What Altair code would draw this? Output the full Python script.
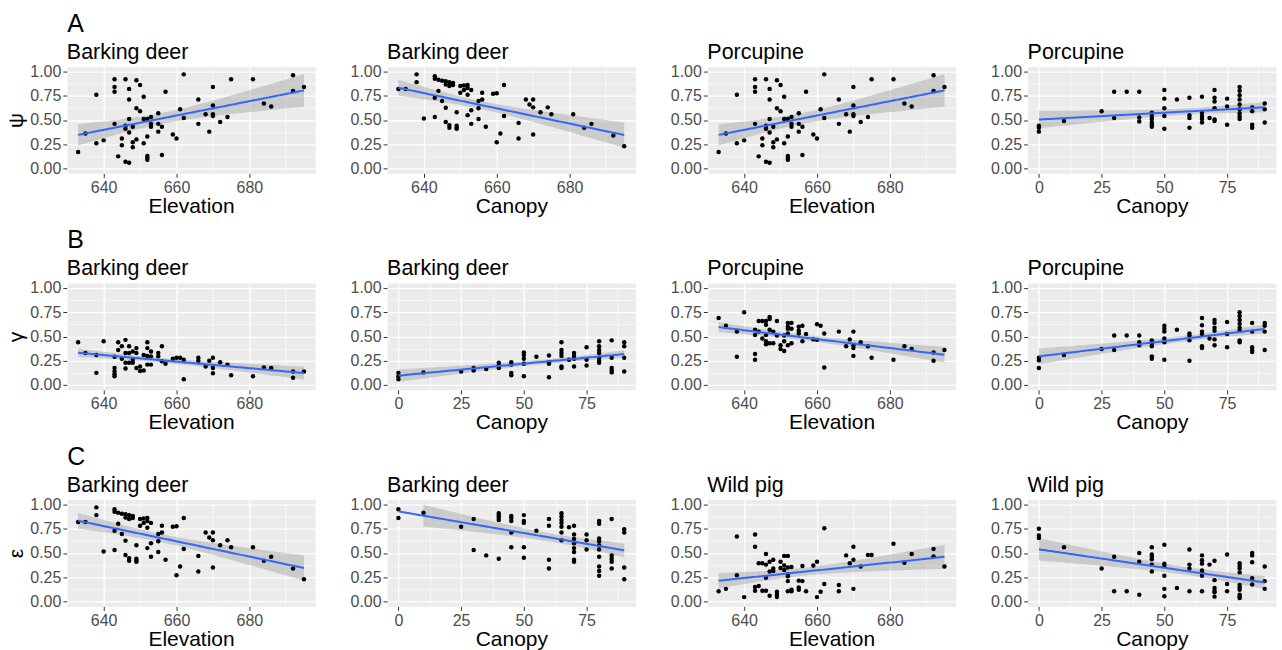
import altair as alt
import numpy as np
import pandas as pd

FONT = "Liberation Sans"

# ---------------- data (x value -> list of y values) -------------
# Row A (psi, occupancy)
psi_bd_elev = {633: [0.17], 635: [0.36], 638: [0.76, 0.26], 640: [0.29], 643: [0.92, 0.84, 0.79, 0.46],
               644: [0.125], 645: [0.31, 0.24], 646: [0.92, 0.44, 0.41, 0.07], 647: [0.82, 0.71, 0.51, 0.37, 0.06],
               648: [0.27, 0.22, 0.43], 649: [0.91, 0.62, 0.30], 650: [0.86, 0.59], 651: [0.74, 0.26, 0.51],
               652: [0.51, 0.33, 0.13, 0.11, 0.09], 653: [0.53, 0.46, 0.43], 655: [0.57, 0.38, 0.46],
               656: [0.43, 0.14], 657: [0.79], 659: [0.35], 660: [0.31], 661: [0.61], 662: [0.97, 0.52],
               666: [0.71, 0.46], 668: [0.56], 669: [0.38], 670: [0.84, 0.65, 0.56, 0.54], 672: [0.48],
               674: [0.53], 675: [0.92], 681: [0.92], 684: [0.67], 686: [0.64], 692: [0.96, 0.80], 695: [0.84]}
psi_bd_canopy = {633: [0.82], 635: [0.82], 638: [0.97, 0.89], 640: [0.515], 643: [0.95, 0.925, 0.73, 0.53],
                 644: [0.80, 0.915], 645: [0.905, 0.695], 646: [0.90, 0.865, 0.627, 0.48],
                 647: [0.89, 0.85, 0.447, 0.42], 648: [0.88, 0.86], 649: [0.58, 0.44, 0.42, 0.41],
                 650: [0.85, 0.78], 651: [0.855, 0.81], 652: [0.86, 0.83, 0.76, 0.55], 653: [0.81, 0.60, 0.46],
                 655: [0.695, 0.62, 0.51], 656: [0.78, 0.71], 657: [0.43], 659: [0.77], 660: [0.775, 0.27],
                 661: [0.36], 662: [0.86, 0.54], 666: [0.47, 0.31], 668: [0.71], 669: [0.66],
                 670: [0.71, 0.63, 0.35], 672: [0.58], 674: [0.63], 675: [0.56], 681: [0.56], 684: [0.42],
                 686: [0.46], 692: [0.34], 695: [0.23]}
psi_pc_elev = psi_bd_elev
psi_pc_canopy = {0: [0.44, 0.42, 0.38], 10: [0.49], 25: [0.59], 30: [0.79, 0.52], 35: [0.79],
                 40: [0.79, 0.525, 0.485], 45: [0.575, 0.54, 0.51, 0.475, 0.45, 0.43],
                 50: [0.81, 0.72, 0.62, 0.54, 0.41], 55: [0.71], 60: [0.73, 0.55, 0.52, 0.42],
                 65: [0.74, 0.575, 0.54, 0.51, 0.475], 68: [0.52], 70: [0.81, 0.73, 0.69, 0.62, 0.505, 0.49],
                 75: [0.72, 0.64, 0.45], 80: [0.84, 0.80, 0.755, 0.71, 0.66, 0.61, 0.57, 0.535, 0.51],
                 85: [0.63, 0.59, 0.45, 0.42], 90: [0.67, 0.61, 0.475]}

# Row B (gamma, colonisation)
gam_bd_elev = {633: [0.44], 635: [0.33], 638: [0.31, 0.125], 640: [0.45], 643: [0.29, 0.175, 0.14, 0.11, 0.09],
               644: [0.44, 0.36], 645: [0.40, 0.27], 646: [0.465, 0.33, 0.23, 0.17], 647: [0.40, 0.33, 0.23],
               648: [0.345, 0.23, 0.26], 649: [0.33, 0.38, 0.175], 650: [0.19, 0.145], 651: [0.31, 0.15],
               652: [0.44, 0.38, 0.30, 0.21], 653: [0.345, 0.295, 0.21], 655: [0.33, 0.295], 656: [0.40, 0.245],
               657: [0.22], 659: [0.27], 660: [0.28], 661: [0.28], 662: [0.26, 0.06], 666: [0.28, 0.25],
               668: [0.19], 669: [0.25], 670: [0.28, 0.175, 0.12], 672: [0.235], 674: [0.21], 675: [0.10],
               681: [0.09], 684: [0.18], 686: [0.175], 692: [0.14, 0.075], 695: [0.14]}
gam_bd_canopy = {0: [0.125, 0.09, 0.06], 10: [0.13], 25: [0.14], 30: [0.175, 0.15], 35: [0.165],
                 40: [0.23, 0.20, 0.175], 45: [0.235, 0.21, 0.125, 0.10], 50: [0.335, 0.31, 0.27, 0.22, 0.09],
                 55: [0.29], 60: [0.305, 0.235, 0.22, 0.08], 65: [0.44, 0.36, 0.33, 0.30, 0.19, 0.175],
                 68: [0.26], 70: [0.33, 0.30, 0.27, 0.19], 75: [0.39, 0.26, 0.20],
                 80: [0.45, 0.40, 0.36, 0.33, 0.28, 0.25, 0.23], 85: [0.46, 0.28, 0.175, 0.15, 0.13],
                 90: [0.44, 0.40, 0.28, 0.14]}
gam_pc_elev = {633: [0.69], 635: [0.61], 638: [0.55, 0.29], 640: [0.75], 643: [0.57, 0.515, 0.32, 0.26],
               644: [0.66, 0.55], 645: [0.66, 0.48], 646: [0.66, 0.62, 0.515, 0.45, 0.42],
               647: [0.70, 0.68, 0.57, 0.43], 648: [0.55, 0.43], 649: [0.66, 0.51], 650: [0.41, 0.37],
               651: [0.45, 0.35, 0.51], 652: [0.64, 0.60, 0.58, 0.53, 0.41], 653: [0.64, 0.58, 0.43],
               655: [0.60, 0.56, 0.53], 656: [0.61, 0.45], 657: [0.525], 659: [0.47], 660: [0.625, 0.465],
               661: [0.61], 662: [0.53, 0.18], 666: [0.55], 668: [0.40], 669: [0.47],
               670: [0.55, 0.41, 0.38, 0.30], 672: [0.44], 674: [0.40], 675: [0.28], 681: [0.26], 684: [0.40],
               686: [0.37], 692: [0.335, 0.25], 695: [0.36]}
gam_pc_canopy = {0: [0.28, 0.255, 0.175], 10: [0.31], 25: [0.37], 30: [0.51, 0.36], 35: [0.51],
                 40: [0.51, 0.44, 0.41], 45: [0.46, 0.43, 0.40, 0.295, 0.27],
                 50: [0.61, 0.58, 0.55, 0.48, 0.44, 0.26], 55: [0.57], 60: [0.53, 0.51, 0.46, 0.25],
                 65: [0.69, 0.615, 0.55, 0.525, 0.40, 0.38], 68: [0.48], 70: [0.67, 0.64, 0.59, 0.56, 0.47, 0.41],
                 75: [0.65, 0.525, 0.39], 80: [0.75, 0.71, 0.67, 0.63, 0.59, 0.56, 0.46, 0.44],
                 85: [0.64, 0.55, 0.39, 0.36, 0.34], 90: [0.64, 0.61, 0.55, 0.36]}

# Row C (epsilon, extinction)
eps_bd_elev = psi_bd_canopy
eps_bd_canopy = {0: [0.95, 0.86], 10: [0.915], 25: [0.77], 30: [0.85, 0.53], 35: [0.475],
                 40: [0.91, 0.885, 0.865, 0.84, 0.44], 45: [0.88, 0.86, 0.83, 0.71, 0.56],
                 50: [0.89, 0.83, 0.81, 0.56, 0.45], 55: [0.73], 60: [0.85, 0.78, 0.43, 0.34],
                 65: [0.91, 0.875, 0.84, 0.81, 0.77, 0.71, 0.63], 68: [0.765],
                 70: [0.78, 0.69, 0.645, 0.60, 0.55, 0.51, 0.43, 0.41], 75: [0.69, 0.63, 0.535],
                 80: [0.83, 0.80, 0.65, 0.62, 0.58, 0.535, 0.46, 0.36, 0.315, 0.265],
                 85: [0.85, 0.475, 0.44, 0.41, 0.34], 90: [0.745, 0.71, 0.35, 0.23]}
eps_wp_elev = {633: [0.105], 635: [0.13], 638: [0.67, 0.27], 640: [0.045], 643: [0.69, 0.565, 0.15, 0.11],
               644: [0.395, 0.16], 645: [0.395, 0.11], 646: [0.49, 0.38, 0.245, 0.11], 647: [0.41, 0.31, 0.06],
               648: [0.43, 0.34, 0.315], 649: [0.10, 0.07, 0.045], 650: [0.41, 0.345], 651: [0.47, 0.37, 0.325],
               652: [0.47, 0.35, 0.28, 0.26, 0.21, 0.105], 653: [0.355, 0.12, 0.105], 655: [0.215, 0.145, 0.12],
               656: [0.365, 0.21], 657: [0.105], 659: [0.37], 660: [0.41, 0.045], 661: [0.10], 662: [0.755, 0.18],
               666: [0.17, 0.105], 668: [0.475], 669: [0.395], 670: [0.565, 0.43, 0.13], 672: [0.36],
               674: [0.48], 675: [0.48], 681: [0.595], 684: [0.40], 686: [0.49], 692: [0.54, 0.465], 695: [0.36]}
eps_wp_canopy = {0: [0.75, 0.68, 0.655], 10: [0.56], 25: [0.34], 30: [0.46, 0.105], 35: [0.105],
                 40: [0.50, 0.41, 0.07], 45: [0.56, 0.485, 0.46, 0.435, 0.38, 0.31],
                 50: [0.585, 0.39, 0.365, 0.265, 0.13, 0.055], 55: [0.14], 60: [0.535, 0.38, 0.34, 0.105],
                 65: [0.475, 0.425, 0.39, 0.32, 0.30, 0.265, 0.105], 68: [0.38],
                 70: [0.42, 0.22, 0.14, 0.11, 0.095, 0.05], 75: [0.485, 0.18, 0.105],
                 80: [0.395, 0.365, 0.34, 0.30, 0.17, 0.145, 0.12, 0.07, 0.05, 0.035],
                 85: [0.50, 0.475, 0.405, 0.24, 0.175], 90: [0.36, 0.21, 0.13]}

row_labels = ["A", "B", "C"]
y_titles = ["ψ", "γ", "ε"]
panel_titles = [["Barking deer", "Barking deer", "Porcupine", "Porcupine"],
                ["Barking deer", "Barking deer", "Porcupine", "Porcupine"],
                ["Barking deer", "Barking deer", "Wild pig", "Wild pig"]]
x_titles = ["Elevation", "Canopy", "Elevation", "Canopy"]
panel_data = [[psi_bd_elev, psi_bd_canopy, psi_pc_elev, psi_pc_canopy],
              [gam_bd_elev, gam_bd_canopy, gam_pc_elev, gam_pc_canopy],
              [eps_bd_elev, eps_bd_canopy, eps_wp_elev, eps_wp_canopy]]
y_ticks = [0, 0.125, 0.25, 0.375, 0.5, 0.625, 0.75, 0.875, 1.0]

PW, PH = 249, 107


def to_frame(pts):
    xs, ys = [], []
    for k, vals in pts.items():
        for v in vals:
            xs.append(float(k))
            ys.append(float(v))
    return pd.DataFrame({"x": xs, "y": ys})


def lm_fit(df, n=100):
    """Linear model fit with 95% confidence band (as geom_smooth(method='lm'))."""
    x = df["x"].to_numpy()
    y = df["y"].to_numpy()
    N = len(x)
    xm = x.mean()
    sxx = ((x - xm) ** 2).sum()
    b = ((x - xm) * (y - y.mean())).sum() / sxx
    a = y.mean() - b * xm
    s = np.sqrt(((y - (a + b * x)) ** 2).sum() / (N - 2))
    tq = 1.96 + 2.5 / (N - 2)
    g = np.linspace(x.min(), x.max(), n)
    fit = a + b * g
    se = s * np.sqrt(1.0 / N + (g - xm) ** 2 / sxx)
    return pd.DataFrame({"x": g, "fit": fit, "lo": fit - tq * se, "hi": fit + tq * se})


def panel(pts, title, xtitle, ytitle):
    df = to_frame(pts)
    fit = lm_fit(df)
    band = fit[(fit["lo"] >= 0) & (fit["hi"] <= 1)]
    xmin, xmax = df["x"].min(), df["x"].max()
    pad = 0.05 * (xmax - xmin)
    dom = [xmin - pad, xmax + pad]
    if xmin > 100:
        step = 20.0
        cand = [630, 640, 650, 660, 670, 680, 690]
    else:
        step = 25.0
        cand = [0, 12.5, 25, 37.5, 50, 62.5, 75, 87.5]
    xvals = [v for v in cand if dom[0] <= v <= dom[1]]
    xminor = f"abs(datum.value/{step} - round(datum.value/{step})) > 0.01"
    yminor = "abs(datum.value*4 - round(datum.value*4)) > 0.01"

    xaxis = alt.Axis(title=xtitle, values=xvals, format="d",
                     labelExpr=f"{xminor} ? '' : datum.label",
                     gridWidth={"condition": {"test": xminor, "value": 0.6}, "value": 1.3},
                     tickOpacity={"condition": {"test": xminor, "value": 0}, "value": 1})
    yaxis = alt.Axis(title=ytitle if ytitle else None, values=y_ticks, format=".2f",
                     labelExpr=f"{yminor} ? '' : datum.label",
                     gridWidth={"condition": {"test": yminor, "value": 0.6}, "value": 1.3},
                     tickOpacity={"condition": {"test": yminor, "value": 0}, "value": 1})
    xs = alt.Scale(domain=dom, nice=False, zero=False)
    ys = alt.Scale(domain=[-0.05, 1.05], nice=False)

    band_l = alt.Chart(band).mark_area(color="#999999", opacity=0.4).encode(
        x=alt.X("x:Q", scale=xs, axis=xaxis),
        y=alt.Y("lo:Q", scale=ys, axis=yaxis),
        y2="hi:Q")
    pts_l = alt.Chart(df).mark_circle(color="black", size=20, opacity=1).encode(
        x=alt.X("x:Q", scale=xs, axis=xaxis),
        y=alt.Y("y:Q", scale=ys, axis=yaxis))
    line_l = alt.Chart(fit).mark_line(color="#3366FF", strokeWidth=2).encode(
        x=alt.X("x:Q", scale=xs, axis=xaxis),
        y=alt.Y("fit:Q", scale=ys, axis=yaxis))
    return alt.layer(band_l, pts_l, line_l).properties(
        width=PW, height=PH,
        title=alt.TitleParams(title, anchor="start", frame="group", fontSize=21.5, font=FONT,
                              fontWeight="normal", color="black", offset=0))


rows = []
for r in range(3):
    cells = [panel(panel_data[r][c], panel_titles[r][c], x_titles[c], y_titles[r] if c == 0 else "")
             for c in range(4)]
    rows.append(alt.hconcat(*cells, spacing=33,
                            title=alt.TitleParams(row_labels[r], anchor="start", fontSize=25, font=FONT,
                                                  fontWeight="normal", color="black", dx=62, offset=5)))

chart = alt.vconcat(*rows, spacing=10).properties(
    padding={"left": 5, "top": 10, "right": 5, "bottom": 0},
    background="white"
).configure_view(fill="#EBEBEB", stroke="transparent").configure_axis(
    domain=False, grid=True, gridColor="white", tickColor="#333333", tickSize=4, tickWidth=1,
    labelColor="#4D4D4D", labelFont=FONT, labelFontSize=16, labelPadding=2,
    titleFont=FONT, titleFontSize=21, titleFontWeight="normal", titleColor="black", titlePadding=3
).configure_axisX(titlePadding=0).configure_axisY(titleAngle=270)

chart.save("out.html", embed_options={"renderer": "svg", "actions": False})
